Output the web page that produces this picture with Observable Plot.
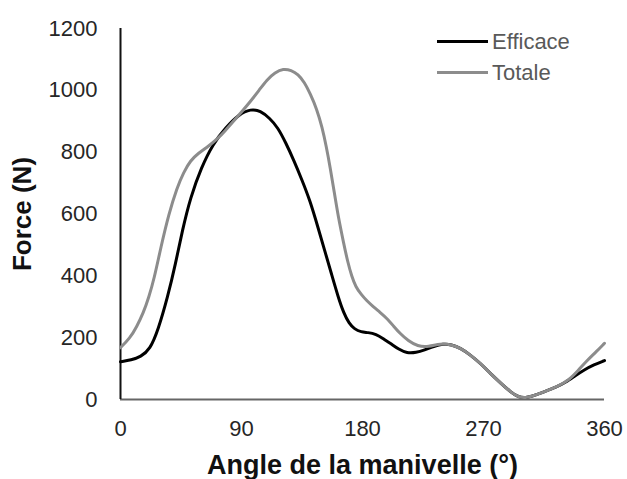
<!DOCTYPE html>
<html>
<head>
<meta charset="utf-8">
<script src="https://cdn.jsdelivr.net/npm/d3@7"></script>
<script src="https://cdn.jsdelivr.net/npm/@observablehq/plot@0.6"></script>
<style>
  html, body { margin: 0; padding: 0; background: #fff; }
  #chart { position: relative; width: 627px; height: 479px; font-family: "Liberation Sans", Arial, sans-serif; }
  #chart svg { font-family: "Liberation Sans", Arial, sans-serif; }
  #chart [aria-label="x-axis label"] text { font-weight: bold; font-size: 27px; fill: #111; }
  #chart [aria-label="y-axis label"] text { font-weight: bold; font-size: 26px; fill: #111; }
  .legend { position: absolute; left: 437px; top: 26px; font-size: 22px; color: #595959; line-height: 31px; }
  .legend .item { display: flex; align-items: center; }
  .legend .swatch { width: 51px; height: 3px; margin-right: 4px; }
</style>
</head>
<body>
<div id="chart"></div>
<script>
const series = ["Efficace", "Totale"];
const colors = ["#000000", "#8c8c8c"];
const xTicks = [0, 90, 180, 270, 360];
const yTicks = [0, 200, 400, 600, 800, 1000, 1200];

const efficaceAngle = [0, 8, 15, 22, 28, 35, 41, 46, 52, 60, 69, 78, 88, 97, 104, 111, 117, 123, 129, 135, 141, 147, 152, 157, 162, 166, 170, 174, 179, 184, 190, 196, 201, 207, 213, 220, 226, 233, 240, 246, 253, 260, 268, 275, 283, 290, 296, 302, 310, 318, 325, 331, 338, 345, 352, 360];
const efficaceForce = [122, 128, 138, 162, 225, 330, 440, 547, 653, 750, 828, 878, 922, 940, 934, 910, 880, 830, 773, 710, 643, 555, 480, 405, 330, 280, 246, 228, 218, 217, 212, 195, 181, 162, 150, 152, 160, 172, 180, 178, 166, 145, 116, 85, 52, 25, 7, 5, 16, 30, 42, 55, 76, 96, 112, 126];

const totaleAngle = [0, 7, 12, 17, 21, 25, 30, 36, 42, 47, 52, 58, 65, 72, 78, 84, 90, 97, 103, 109, 115, 121, 127, 132, 137, 141, 146, 150, 153, 156, 159, 162, 166, 169, 172, 175, 179, 183, 188, 193, 198, 203, 208, 214, 221, 229, 238, 246, 253, 260, 268, 275, 283, 290, 296, 302, 310, 318, 325, 333, 340, 347, 354, 360];
const totaleForce = [168, 198, 235, 280, 330, 390, 492, 601, 685, 735, 773, 797, 818, 842, 870, 900, 930, 966, 1000, 1035, 1058, 1070, 1065, 1052, 1025, 990, 940, 880, 820, 750, 670, 590, 505, 445, 398, 364, 340, 320, 300, 282, 263, 238, 213, 190, 172, 170, 181, 178, 166, 145, 116, 85, 52, 25, 7, 5, 16, 30, 42, 61, 92, 126, 155, 182];

const rows = [
  ...efficaceAngle.map((a, i) => ({serie: series[0], angle: a, force: efficaceForce[i]})),
  ...totaleAngle.map((a, i) => ({serie: series[1], angle: a, force: totaleForce[i]}))
];

const plot = Plot.plot({
  width: 627,
  height: 479,
  marginLeft: 120,
  marginRight: 23,
  marginTop: 28,
  marginBottom: 80,
  style: {fontSize: "22px", color: "#262626", background: "#fff"},
  x: {domain: [0, 360]},
  y: {domain: [0, 1200]},
  color: {domain: series, range: colors},
  marks: [
    Plot.axisX({ticks: xTicks, tickSize: 0, tickPadding: 21, tickFormat: d => String(d), label: "Angle de la manivelle (°)", labelArrow: false, labelAnchor: "center", labelOffset: 74, fontSize: 22}),
    Plot.axisY({ticks: yTicks, tickSize: 0, tickPadding: 23, tickFormat: d => String(d), label: "Force (N)", labelArrow: false, labelAnchor: "center", labelOffset: 108, fontSize: 22}),
    Plot.ruleY([0], {stroke: "#666", strokeWidth: 2}),
    Plot.ruleX([0], {stroke: "#111", strokeWidth: 2}),
    Plot.line(rows, {x: "angle", y: "force", z: "serie", stroke: "serie", strokeWidth: 3, curve: "basis"})
  ]
});

const chart = document.getElementById("chart");
chart.appendChild(plot);

const legend = document.createElement("div");
legend.className = "legend";
series.forEach((s, i) => {
  const item = document.createElement("div");
  item.className = "item";
  const sw = document.createElement("span");
  sw.className = "swatch";
  sw.style.background = colors[i];
  const t = document.createElement("span");
  t.textContent = s;
  item.appendChild(sw);
  item.appendChild(t);
  legend.appendChild(item);
});
chart.appendChild(legend);
</script>
</body>
</html>
